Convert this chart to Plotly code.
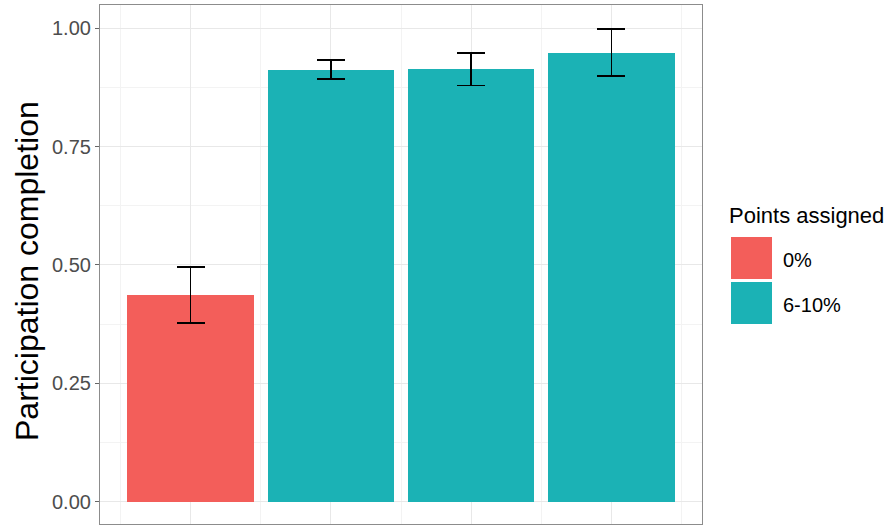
import plotly.graph_objects as go

# Participation completion by condition (mean with confidence interval)
positions = [1, 2, 3, 4]
groups = ["0%", "6-10%", "6-10%", "6-10%"]
completion = [0.436, 0.912, 0.913, 0.948]
ci_lower = [0.378, 0.893, 0.879, 0.899]
ci_upper = [0.495, 0.933, 0.948, 0.998]

group_order = ["0%", "6-10%"]
group_colors = {"0%": "#F35E5A", "6-10%": "#1BB2B5"}

legend_title = "Points assigned"
y_title = "Participation completion"
y_ticks = [0.0, 0.25, 0.5, 0.75, 1.0]

W, H = 887, 525
ML, MR, MT, MB = 100, 185, 5, 1
PW, PH = W - ML - MR, H - MT - MB

def paper_x(px):
    return (px - ML) / PW

def paper_y(py):
    return (H - MB - py) / PH

FONT = "Liberation Sans, Arial, sans-serif"

fig = go.Figure()
for g in group_order:
    idx = [i for i, gg in enumerate(groups) if gg == g]
    xs = [positions[i] for i in idx]
    ys = [completion[i] for i in idx]
    plus = [ci_upper[i] - completion[i] for i in idx]
    minus = [completion[i] - ci_lower[i] for i in idx]
    fig.add_trace(go.Bar(
        x=xs, y=ys, width=0.9, name=g,
        marker=dict(color=group_colors[g], line=dict(width=0)),
        error_y=dict(type="data", symmetric=False, array=plus, arrayminus=minus,
                     color="black", thickness=1.7, width=14),
        showlegend=False,
    ))

grid_major = "#E8E8E8"
grid_minor = "#F3F3F3"
frame = "#8C8C8C"

fig.update_xaxes(
    range=[0.355, 4.645], tickvals=positions, showticklabels=False, ticks="",
    showgrid=True, gridcolor=grid_major, gridwidth=1,
    minor=dict(tickvals=[0.5, 1.5, 2.5, 3.5, 4.5], showgrid=True,
               gridcolor=grid_minor, gridwidth=0.8),
    showline=True, linecolor=frame, linewidth=1.2, mirror=True, zeroline=False,
)
fig.update_yaxes(
    range=[-0.047, 1.049], tickvals=y_ticks, tickformat=".2f",
    ticks="outside", ticklen=4, tickcolor="#666666", tickwidth=1,
    tickfont=dict(size=20, color="#4D4D4D", family=FONT),
    showgrid=True, gridcolor=grid_major, gridwidth=1,
    minor=dict(tickvals=[0.125, 0.375, 0.625, 0.875], showgrid=True,
               gridcolor=grid_minor, gridwidth=0.8),
    showline=True, linecolor=frame, linewidth=1.2, mirror=True, zeroline=False,
)

annotations = [
    dict(text=y_title, textangle=-90, xref="paper", yref="paper",
         x=paper_x(27), y=paper_y(271), xanchor="center", yanchor="middle",
         showarrow=False, font=dict(size=32, color="black", family=FONT)),
    dict(text=legend_title, xref="paper", yref="paper",
         x=paper_x(727), y=paper_y(215), xanchor="left", yanchor="middle",
         showarrow=False, font=dict(size=22, color="black", family=FONT)),
]
shapes = []
key_tops = [237, 282]
for g, top in zip(group_order, key_tops):
    shapes.append(dict(type="rect", xref="paper", yref="paper",
                       x0=paper_x(731), x1=paper_x(772),
                       y0=paper_y(top + 42), y1=paper_y(top),
                       fillcolor=group_colors[g], line=dict(width=0)))
    annotations.append(dict(text=g, xref="paper", yref="paper",
                            x=paper_x(781), y=paper_y(top + 23),
                            xanchor="left", yanchor="middle", showarrow=False,
                            font=dict(size=20, color="black", family=FONT)))

fig.update_layout(
    width=W, height=H,
    margin=dict(l=ML, r=MR, t=MT, b=MB),
    paper_bgcolor="white", plot_bgcolor="white",
    barmode="overlay", bargap=0,
    font=dict(family=FONT),
    annotations=annotations, shapes=shapes,
)

fig.write_html("out.html")
